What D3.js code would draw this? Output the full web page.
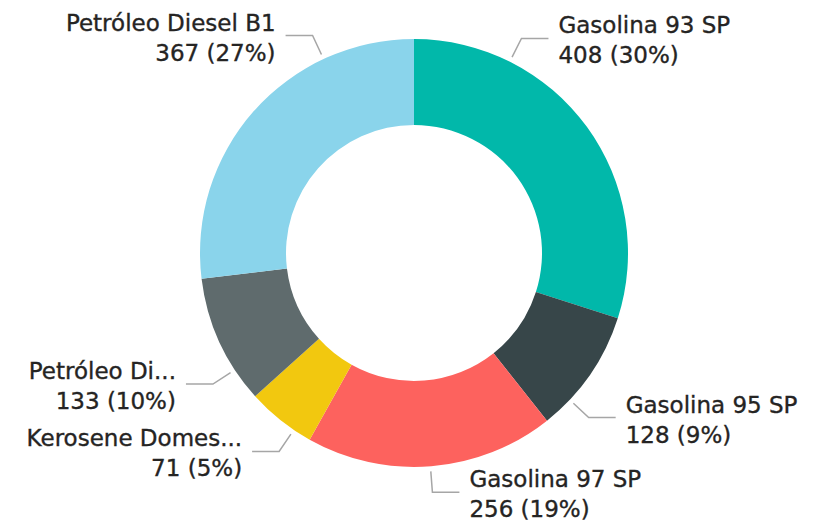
<!DOCTYPE html>
<html lang="en">
<head>
<meta charset="utf-8">
<title>Donut</title>
<script src="https://d3js.org/d3.v7.min.js"></script>
<style>
  body { margin: 0; background: #fff; }
  text { font-family: "DejaVu Sans", sans-serif; fill: #252423; stroke: #252423; stroke-width: 0.35px; }
</style>
</head>
<body>
<script>
"use strict";

// data
const labels = ["Gasolina 93 SP", "Gasolina 95 SP", "Gasolina 97 SP", "Kerosene Domes...", "Petróleo Di...", "Petróleo Diesel B1"];
const values = [408, 128, 256, 71, 133, 367];
const colors = ["#01B8AA", "#374649", "#FD625E", "#F2C80F", "#5F6B6D", "#8AD4EB"];
// where the leader line leaves the ring (degrees, clockwise from top)
const labelAngles = [26.6, 133.3, 175.6, 214.2, 236.9, 335.0];

const w = 817, h = 522;
const cx = 414, cy = 253;
const R = 214, r0 = 128;

const svg = d3.select("body").append("svg")
  .attr("width", w).attr("height", h);

const g = svg.append("g").attr("transform", `translate(${cx},${cy})`);

const pie = d3.pie().sort(null).value(d => d)(values);
const arc = d3.arc().innerRadius(r0).outerRadius(R);

g.selectAll("path.slice")
  .data(pie)
  .enter()
  .append("path")
  .attr("class", "slice")
  .attr("d", arc)
  .style("fill", (d, i) => colors[i]);

const total = d3.sum(values);
const pct = d3.format(".0%");

function pt(angleDeg, rad) {
  const a = angleDeg * Math.PI / 180;
  return [rad * Math.sin(a), -rad * Math.cos(a)];
}

labels.forEach(function(lab, i) {
  const ang = labelAngles[i];
  const p0 = pt(ang, R + 5);
  const p1 = pt(ang, R + 26);
  const right = ang < 180;
  const p2 = [p1[0] + (right ? 27 : -27), p1[1]];

  g.append("polyline")
    .attr("points", [p0, p1, p2].map(p => p.join(",")).join(" "))
    .style("fill", "none")
    .style("stroke", "#a6a6a6")
    .style("stroke-width", 1.5);

  const tx = p2[0] + (right ? 10 : -10);
  const t = g.append("text")
    .attr("text-anchor", right ? "start" : "end")
    .style("font-size", "23px");
  t.append("tspan").attr("x", tx).attr("y", p1[1] - 5).text(lab);
  t.append("tspan").attr("x", tx).attr("y", p1[1] + 25)
    .text(values[i] + " (" + pct(values[i] / total) + ")");
});
</script>
</body>
</html>
